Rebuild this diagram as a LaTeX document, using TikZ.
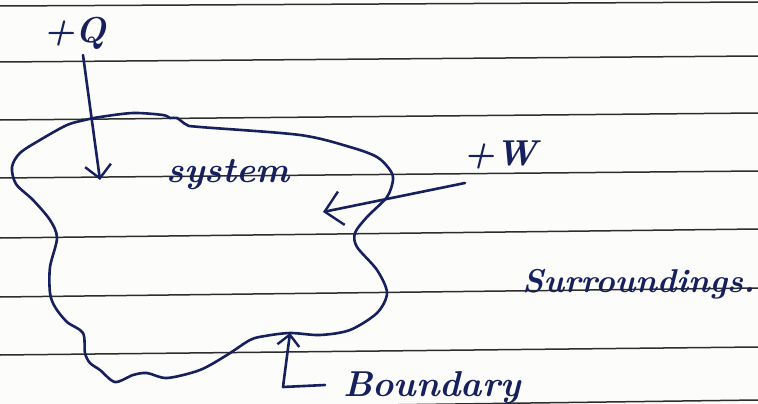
\documentclass[tikz,border=0pt]{standalone}
\usetikzlibrary{arrows.meta}
\definecolor{ink}{RGB}{22,32,92}
\definecolor{rule}{RGB}{45,45,45}
\definecolor{paper}{RGB}{252,252,250}
\begin{document}
\begin{tikzpicture}[x=1pt,y=-1pt,
  inkline/.style={draw=ink,line width=2.6pt,line cap=round,line join=round},
  ruled/.style={draw=rule,line width=1.5pt},
  hand/.style={text=ink,font=\fontsize{36}{40}\selectfont\bfseries\itshape,inner sep=0pt},
  barb/.style={-{Straight Barb[length=#1,width=2*#1,line width=2.4pt]}},
  barb/.default=12pt]
\useasboundingbox[fill=paper] (0,0) rectangle (758,404);
\begin{scope}
\clip (0,0) rectangle (758,404);
% ruled lines
\foreach \y/\z in {6/2, 62/56, 120/113, 178/171, 238/229, 297/288, 355/347, 410/400}
  \draw[ruled] (0,\y) -- (758,\z);
\end{scope}
% boundary of the system
\draw[inkline] plot[smooth cycle, tension=0.5] coordinates {
 (85,120) (100,117) (133,113) (163,115) (170,118) (177,118) (187,125) (200,127)
 (300,135) (350,147) (377,157) (390,170) (393,180) (387,197) (367,217) (355,233)
 (357,247) (377,270) (387,293) (377,313) (350,330) (320,335) (290,333) (265,336)
 (250,340) (227,355) (200,370) (167,378) (147,373) (133,375) (115,382) (100,370)
 (90,363) (85,353) (83,333) (67,322) (55,307) (50,293) (50,267) (57,238) (50,220)
 (33,200) (16,184) (12,167) (20,153) (40,140) (67,125)};
% labels
\node[hand,anchor=base west] (q) at (43,43) {+Q};
\node[hand,anchor=base] (sys) at (228,182) {system};
\node[hand,anchor=base west] (w) at (463,165) {+W};
\node[hand,anchor=base west,font=\fontsize{33}{38}\selectfont\bfseries\itshape] (sur) at (522,292) {Surroundings.};
\node[hand,anchor=base west] (bnd) at (343,396) {Boundary};
% connectors
\coordinate (qs) at (83,55);
\coordinate (qt) at (100,180);
\coordinate (ws) at (465,183);
\coordinate (wt) at (323,212);
\coordinate (bs) at (325,385);
\coordinate (bc) at (283,387);
\coordinate (bt) at (290,333);
\draw[inkline,barb=13pt] (qs) -- (qt);
\draw[inkline,barb=17pt] (ws) -- (wt);
\draw[inkline,barb=11pt] (bs) -- (bc) -- (bt);
\end{tikzpicture}
\end{document}
